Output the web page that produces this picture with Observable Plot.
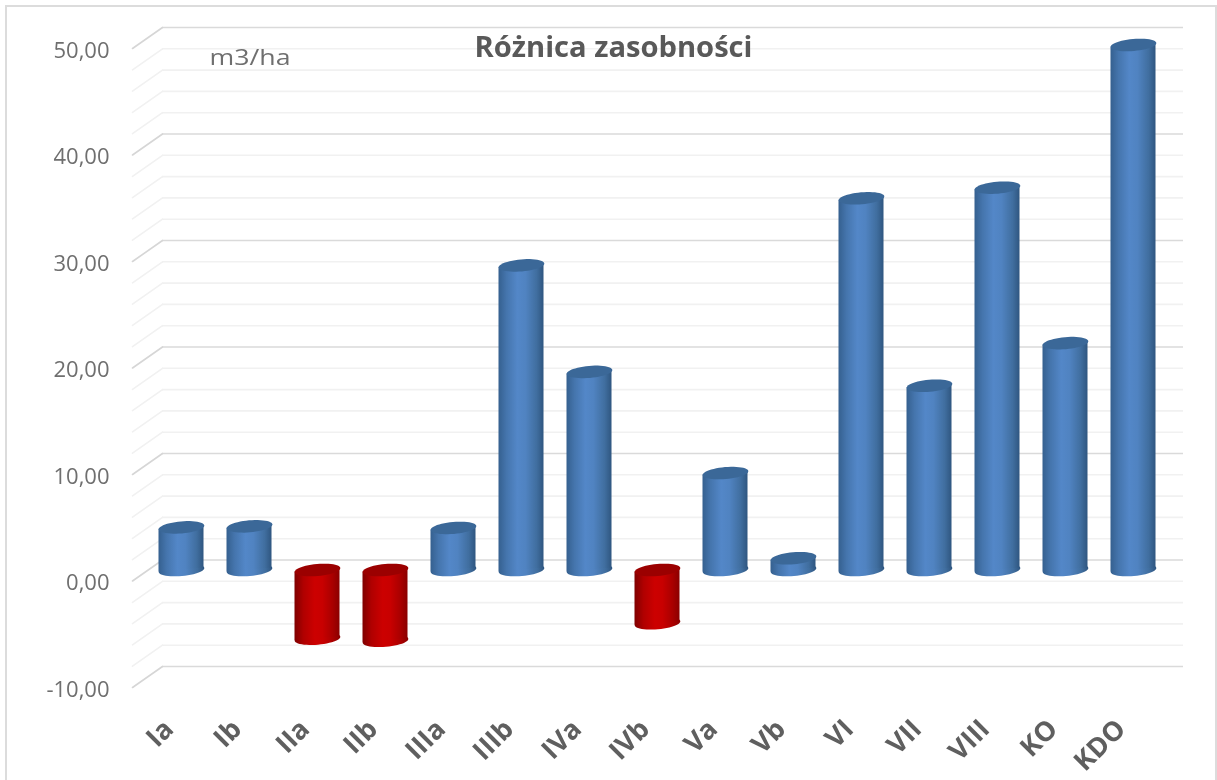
<!DOCTYPE html>
<html lang="pl">
<head>
<meta charset="utf-8">
<script src="https://cdn.jsdelivr.net/npm/d3@7"></script>
<script src="https://cdn.jsdelivr.net/npm/@observablehq/plot@0.6"></script>
<style>
  html, body { margin: 0; padding: 0; background: #fff; overflow: hidden; }
  #chart { position: relative; width: 1217px; height: 780px; }
  #chart svg { display: block; position: absolute; left: 0; top: 0; filter: blur(0.35px); }
  #border { position: absolute; left: 5px; top: 5px; width: 1212px; height: 775px;
            border: 2px solid #dcdcdc; border-bottom: none; box-sizing: border-box; }
</style>
</head>
<body>
<div id="chart"><div id="border"></div></div>
<script>
const categories = ["Ia","Ib","IIa","IIb","IIIa","IIIb","IVa","IVb","Va","Vb","VI","VII","VIII","KO","KDO"];
const values = [4.0,4.1,-6.45,-6.65,3.95,28.6,18.6,-5.0,9.1,1.1,34.9,17.3,35.9,21.3,49.3];
const majorTicks = [-10,0,10,20,30,40,50];
const minorTicks = [-8,-6,-4,-2,2,4,6,8,12,14,16,18,22,24,26,28,32,34,36,38,42,44,46,48];
const titleText = "Różnica zasobności";
const unitText = "m3/ha";

const rows = categories.map((cat, i) => ({cat, val: values[i]}));

const depthX = 30, depthY = 21, barDx = -15.5, barDy = 10;
const capRx = 22.9, capRy = 6, tilt = -5 * Math.PI / 180;

// tilted ellipse used as a Plot symbol for the cylinder caps
const capSymbol = {
  draw(ctx) {
    const n = 48;
    for (let i = 0; i <= n; i++) {
      const t = (i / n) * 2 * Math.PI;
      const ex = capRx * Math.cos(t), ey = capRy * Math.sin(t);
      const px = ex * Math.cos(tilt) - ey * Math.sin(tilt);
      const py = ex * Math.sin(tilt) + ey * Math.cos(tilt);
      if (i === 0) ctx.moveTo(px, py); else ctx.lineTo(px, py);
    }
    ctx.closePath();
  }
};
// single stroke as a Plot vector shape, for the floor-side gridline stubs
const stubShape = { draw(ctx, l) { ctx.moveTo(0, 0); ctx.lineTo(0, -l); } };
const stubLength = Math.hypot(depthX, depthY);
const stubAngle = 180 + Math.atan2(depthX, depthY) * 180 / Math.PI;

// skew the bar body so that its ends meet the tilted caps
function skewBody(index, scales, vals, dims, ctx, next) {
  const g = next(index, scales, vals, dims, ctx);
  g.querySelectorAll("rect").forEach(r => {
    const cx = +r.getAttribute("x") + r.getAttribute("width") / 2;
    const cy = +r.getAttribute("y") + r.getAttribute("height") / 2;
    r.setAttribute("transform", `translate(${cx},${cy}) skewY(${tilt * 180 / Math.PI}) translate(${-cx},${-cy})`);
  });
  return g;
}

// fit a single-line text to the width it has in the picture
const fitWidth = w => (index, scales, vals, dims, ctx, next) => {
  const g = next(index, scales, vals, dims, ctx);
  g.querySelectorAll("text").forEach(t => {
    t.setAttribute("textLength", w);
    t.setAttribute("lengthAdjust", "spacingAndGlyphs");
  });
  return g;
};

function cylinders(filter, body, top) {
  const common = {x: "cat", dx: barDx, dy: barDy, filter};
  return [
    Plot.dot(rows, {...common, y: d => Math.min(d.val, 0), symbol: capSymbol, r: 1, fill: body, stroke: "none"}),
    Plot.barY(rows, {...common, y1: () => 0, y2: "val", fill: body, render: skewBody}),
    Plot.dot(rows, {...common, y: d => Math.max(d.val, 0), symbol: capSymbol, r: 1, fill: top, stroke: "none"})
  ];
}

const commaFmt = d => d3.format(".2f")(d).replace(".", ",").replace("\u2212", "-");

const plot = Plot.plot({
  width: 1217,
  height: 780,
  marginLeft: 162,
  marginRight: 34,
  marginTop: 27,
  marginBottom: 114,
  style: {background: "transparent", fontFamily: "'Open Sans', sans-serif"},
  x: {domain: categories, paddingInner: 0.332, paddingOuter: 0.166, axis: null},
  y: {domain: [-10, 50], axis: null},
  marks: [
    Plot.ruleY(minorTicks, {stroke: "#f1f1f1", strokeWidth: 1.6}),
    Plot.ruleY(majorTicks, {stroke: "#dadada", strokeWidth: 1.6}),
    Plot.vector(minorTicks, {y: d => d, frameAnchor: "left", anchor: "start", length: stubLength, rotate: stubAngle, shape: stubShape, stroke: "#f1f1f1", strokeWidth: 1.6}),
    Plot.vector(majorTicks, {y: d => d, frameAnchor: "left", anchor: "start", length: stubLength, rotate: stubAngle, shape: stubShape, stroke: "#d6d6d6", strokeWidth: 1.6}),
    Plot.axisY({ticks: majorTicks, tickFormat: commaFmt, tickSize: 0, tickPadding: 53, dy: 23, label: null, fontSize: 22, color: "#6f6f6f"}),
    ...cylinders(d => d.val >= 0, "url(#blueBody)", "#3b6898"),
    ...cylinders(d => d.val < 0, "url(#redBody)", "#9b0000"),
    Plot.text(categories, {x: d => d, frameAnchor: "bottom", dx: -28, dy: 58, lineAnchor: "middle", rotate: -45, textAnchor: "end", fontSize: 27, fontWeight: 700, fill: "#5f5f5f"}),
    Plot.text([titleText], {frameAnchor: "top", dx: -59.5, dy: 21, fontSize: 28, fontWeight: 700, fill: "#595959", lineAnchor: "middle", render: fitWidth(278)}),
    Plot.text([unitText], {frameAnchor: "top-left", dx: 47, dy: 31, fontSize: 21, fill: "#6f6f6f", lineAnchor: "middle", textAnchor: "start", render: fitWidth(81)})
  ]
});

const defs = d3.select(plot).insert("defs", ":first-child");
function addGradient(id, stops) {
  const g = defs.append("linearGradient").attr("id", id)
    .attr("x1", 0).attr("x2", 1).attr("y1", 0).attr("y2", 0);
  stops.forEach(([o, c]) => g.append("stop").attr("offset", o).attr("stop-color", c));
}
addGradient("blueBody", [[0, "#35608f"], [0.18, "#4575ad"], [0.42, "#5387c8"], [0.6, "#5083c1"], [0.85, "#406e9f"], [1, "#2f5680"]]);
addGradient("redBody", [[0, "#7f0000"], [0.2, "#b00000"], [0.45, "#cc0000"], [0.62, "#c80000"], [0.85, "#a80000"], [1, "#8a0000"]]);

document.getElementById("chart").appendChild(plot);
</script>
</body>
</html>
